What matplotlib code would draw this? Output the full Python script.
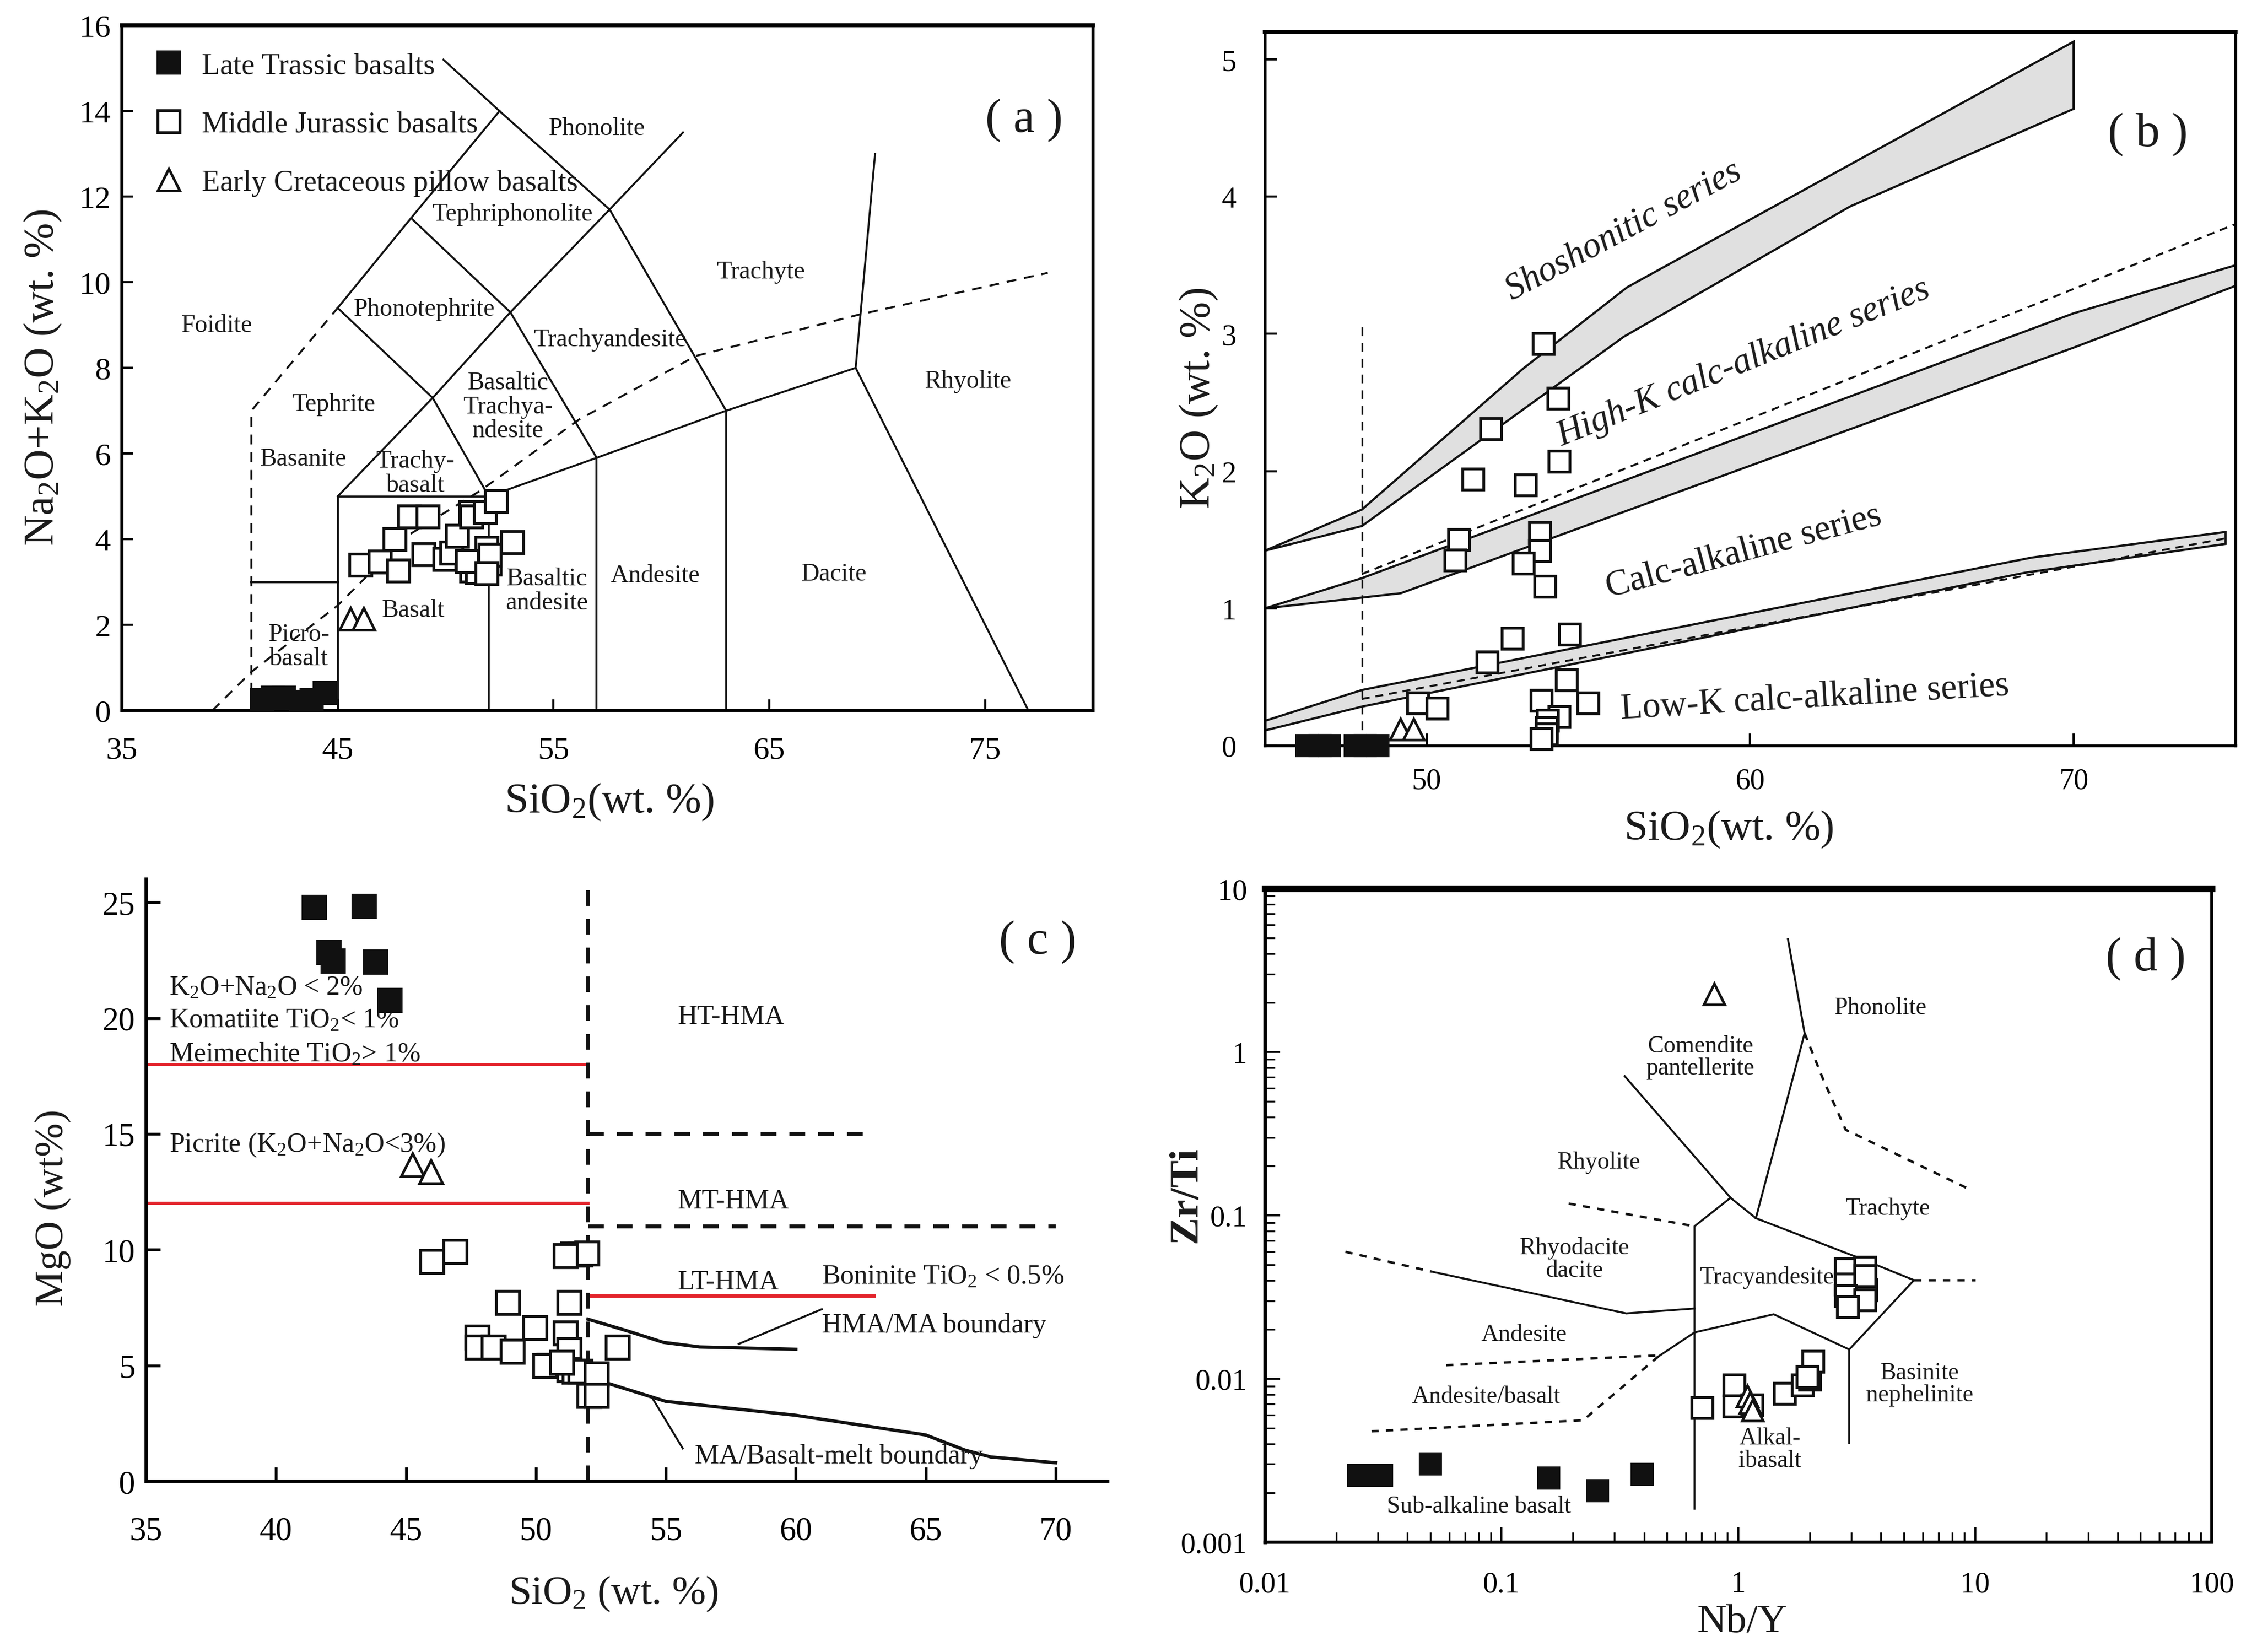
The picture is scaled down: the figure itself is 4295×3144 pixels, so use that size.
import numpy as np
import matplotlib
matplotlib.use('Agg')
import matplotlib.pyplot as plt
from matplotlib.lines import Line2D

plt.rcParams['font.family'] = ['Liberation Serif', 'DejaVu Serif']
plt.rcParams['mathtext.fontset'] = 'custom'
plt.rcParams['mathtext.rm'] = 'Liberation Serif'
plt.rcParams['mathtext.it'] = 'Liberation Serif:italic'
plt.rcParams['mathtext.bf'] = 'Liberation Serif:bold'
plt.rcParams['text.color'] = '#1a1a1a'

INK = '#111111'
RED = '#e3232b'
BAND = '#e0e0e0'

# ---------------- (a) TAS data ----------------
tas_lt_x = [41.5, 42.0, 42.5, 43.3, 43.8, 44.4]
tas_lt_y = [0.25, 0.3, 0.3, 0.2, 0.25, 0.4]
tas_mj_x = [46.06, 46.95, 47.8, 47.63, 48.32, 49.17, 48.97, 49.94, 50.28, 50.54, 51.14, 51.2,
            51.82, 52.33, 51.39, 51.2, 51.46, 51.9, 52.05, 53.1, 52.05, 51.0, 51.9]
tas_mj_y = [3.40, 3.47, 3.26, 4.0, 4.53, 4.53, 3.65, 3.54, 3.68, 4.07, 4.63, 4.53,
            4.63, 4.88, 3.36, 3.26, 3.23, 3.79, 3.42, 3.93, 3.63, 3.49, 3.2]
tas_ec_x = [45.6, 46.2]
tas_ec_y = [2.13, 2.13]

tas_solid = [
    [(41, 3), (45, 3)],
    [(45, 0), (45, 5), (52, 5), (52, 0)],
    [(52, 5), (57, 5.9), (63, 7), (69, 8), (77, 0)],
    [(57, 0), (57, 5.9)],
    [(63, 0), (63, 7)],
    [(69, 8), (69.9, 13)],
    [(45, 9.4), (49.4, 7.3), (52, 5)],
    [(45, 5), (49.4, 7.3), (53, 9.3), (57.6, 11.7), (61, 13.5)],
    [(45, 9.4), (48.4, 11.5), (52.5, 14)],
    [(48.4, 11.5), (53, 9.3), (57, 5.9)],
    [(49.9, 15.2), (52.5, 14), (57.6, 11.7), (63, 7)],
]
tas_dashed = [
    [(41, 0), (41, 7), (45, 9.4)],
    [(39.2, 0), (41, 0.9), (45, 2.45), (48.2, 4.07), (51.6, 5.13), (56.2, 6.8),
     (61.6, 8.28), (69.2, 9.25), (77.9, 10.22)],
]
tas_labels = [
    ('Foidite', 39.4, 9.0), ('Tephrite', 44.8, 7.16), ('Basanite', 43.4, 5.88),
    ('Picro-\nbasalt', 43.2, 1.5), ('Trachy-\nbasalt', 48.6, 5.55), ('Basalt', 48.5, 2.35),
    ('Basaltic\nTrachya-\nndesite', 52.9, 7.1), ('Basaltic\nandesite', 54.7, 2.8),
    ('Andesite', 59.7, 3.16), ('Dacite', 68.0, 3.19), ('Rhyolite', 74.2, 7.7),
    ('Trachyte', 64.6, 10.25), ('Trachyandesite', 57.6, 8.67), ('Phonotephrite', 49.0, 9.38),
    ('Tephriphonolite', 53.1, 11.6), ('Phonolite', 57.0, 13.6),
]

# ---------------- (b) K2O-SiO2 data ----------------
k_lt_x = [46.3, 46.7, 47.0, 47.8, 48.1, 48.5]
k_lt_y = [0, 0, 0, 0, 0, 0]
k_mj_x = [53.61, 54.06, 51.99, 54.1, 51.44, 53.06, 51.0, 50.88, 53.5, 53.5, 52.99, 53.66,
          52.66, 51.88, 54.43, 54.32, 54.99, 49.73, 50.33, 53.55, 54.1, 53.74, 53.7, 53.7, 53.55]
k_mj_y = [2.93, 2.53, 2.31, 2.07, 1.94, 1.90, 1.50, 1.35, 1.55, 1.42, 1.33, 1.16,
          0.78, 0.61, 0.81, 0.48, 0.31, 0.31, 0.27, 0.33, 0.21, 0.185, 0.13, 0.086, 0.05]
k_ec_x = [49.2, 49.6]
k_ec_y = [0.12, 0.12]

band1_up_x = [45, 48, 53, 56.2, 63.6, 70]
band1_up_y = [1.42, 1.72, 2.75, 3.34, 4.3, 5.13]
band1_lo_x = [45, 48, 56.1, 63.1, 70]
band1_lo_y = [1.42, 1.6, 2.98, 3.93, 4.64]
band2_up_x = [45, 48, 70, 75]
band2_up_y = [1.0, 1.22, 3.15, 3.5]
band2_lo_x = [45, 49.2, 70, 75]
band2_lo_y = [1.0, 1.11, 2.9, 3.35]
band3_up_x = [45, 48, 68.7, 74.7]
band3_up_y = [0.18, 0.405, 1.37, 1.557]
band3_lo_x = [45, 48, 68.5, 74.7]
band3_lo_y = [0.11, 0.284, 1.26, 1.47]
hik_dash = [(48, 1.25), (75, 3.8)]
lok_dash = [(48, 0.34), (74.7, 1.51)]

k_labels = [
    ('Shoshonitic series', 56.1, 3.75, 28, 'italic'),
    ('High-K calc-alkaline series', 59.8, 2.79, 22, 'italic'),
    ('Calc-alkaline series', 59.8, 1.41, 15, 'normal'),
    ('Low-K calc-alkaline series', 62.0, 0.35, 3.5, 'normal'),
]

# ---------------- (c) MgO-SiO2 data ----------------
m_lt_x = [41.47, 43.4, 42.04, 42.2, 43.84, 44.38]
m_lt_y = [24.78, 24.83, 22.82, 22.47, 22.42, 20.75]
m_mj_x = [46.0, 46.9, 51.41, 51.7, 51.97, 51.14, 48.92, 51.28, 49.97, 51.14, 47.73, 47.73,
          48.37, 49.1, 51.28, 53.14, 50.5, 50.35, 51.28, 51.48, 51.7, 52.33, 52.05, 52.33, 51.0]
m_mj_y = [9.49, 9.91, 9.8, 9.8, 9.86, 9.74, 7.72, 7.72, 6.63, 6.39, 6.21, 5.78,
          5.78, 5.6, 5.67, 5.78, 4.99, 4.99, 4.81, 4.75, 4.75, 4.63, 3.71, 3.71, 5.12]
m_ec_x = [45.26, 45.97]
m_ec_y = [13.66, 13.37]

hma_ma_x = [52, 53.5, 54.9, 56.3, 60]
hma_ma_y = [7.0, 6.5, 6.0, 5.8, 5.7]
ma_melt_x = [52, 55, 60, 65, 66.5, 67.5, 70]
ma_melt_y = [4.5, 3.45, 2.85, 2.0, 1.35, 1.05, 0.8]

# ---------------- (d) Zr/Ti-Nb/Y data ----------------
z_lt_x = [0.0249, 0.0311, 0.050, 0.158, 0.254, 0.392]
z_lt_y = [0.00256, 0.00256, 0.0030, 0.00246, 0.00206, 0.0026]
z_mj_x = [0.702, 0.96, 0.96, 1.143, 1.567, 1.867, 2.0, 2.07, 1.95,
          2.84, 3.43, 2.84, 3.46, 3.43, 2.84, 3.43, 2.9]
z_mj_y = [0.00667, 0.00917, 0.00679, 0.0069, 0.00813, 0.00917, 0.00993, 0.0128, 0.0103,
          0.0471, 0.048, 0.0378, 0.0349, 0.0427, 0.0322, 0.0303, 0.0275]
z_ec_x = [0.789, 1.09, 1.12, 1.15]
z_ec_y = [2.25, 0.0078, 0.0071, 0.0064]

d_solid = [
    [(0.331, 0.711), (0.927, 0.128), (1.186, 0.096), (3.27, 0.0545), (5.52, 0.0401),
     (2.94, 0.0151), (1.41, 0.0248), (0.653, 0.0192), (0.46, 0.0137)],
    [(1.62, 4.9), (1.905, 1.30), (1.186, 0.096)],
    [(0.927, 0.128), (0.653, 0.0857), (0.653, 0.0016)],
    [(2.94, 0.0151), (2.94, 0.00405)],
    [(0.0508, 0.0452), (0.336, 0.0251), (0.653, 0.0269)],
]
d_dashed = [
    [(0.46, 0.0137), (0.221, 0.00557), (0.027, 0.00475)],
    [(0.0583, 0.0121), (0.46, 0.0139)],
    [(0.0219, 0.0598), (0.0508, 0.0452)],
    [(0.192, 0.118), (0.653, 0.0857)],
    [(1.905, 1.30), (2.30, 0.66), (2.84, 0.334), (9.34, 0.1456)],
    [(5.52, 0.0401), (10.0, 0.0401)],
]
d_labels = [
    ('Phonolite', 3.98, 1.86), ('Comendite\npantellerite', 0.69, 0.93), ('Rhyolite', 0.258, 0.212),
    ('Trachyte', 4.27, 0.11), ('Rhyodacite\ndacite', 0.203, 0.054), ('Tracyandesite', 1.32, 0.0418),
    ('Andesite', 0.1245, 0.0186), ('Andesite/basalt', 0.086, 0.0078),
    ('Basinite\nnephelinite', 5.84, 0.0093), ('Alkal-\nibasalt', 1.36, 0.0037),
    ('Sub-alkaline basalt', 0.08, 0.00166),
]


def polyline(ax, pts, **kw):
    xs, ys = zip(*pts)
    ax.plot(xs, ys, color=INK, **kw)


def samples(ax, lt, mj, ec, ms=9.5, clip=True):
    ax.plot(lt[0], lt[1], 's', ls='none', mfc=INK, mec=INK, ms=ms, mew=1.0, clip_on=clip, zorder=5)
    ax.plot(mj[0], mj[1], 's', ls='none', mfc='white', mec=INK, ms=ms, mew=1.3, clip_on=clip, zorder=5)
    ax.plot(ec[0], ec[1], '^', ls='none', mfc='white', mec=INK, ms=ms, mew=1.2, clip_on=clip, zorder=5)


fig = plt.figure(figsize=(4295 / 300, 3145 / 300), dpi=300)

# ================= (a) =================
ax = fig.add_axes([0.054, 0.5698, 0.4303, 0.4145])
ax.set_xlim(35, 80)
ax.set_ylim(0, 16)
for pts in tas_solid:
    polyline(ax, pts, lw=0.9)
for pts in tas_dashed:
    polyline(ax, pts, lw=0.9, dashes=(5, 4))
for txt, x, y in tas_labels:
    ax.text(x, y, txt, ha='center', va='center', fontsize=11.5, linespacing=1.05)
samples(ax, (tas_lt_x, tas_lt_y), (tas_mj_x, tas_mj_y), (tas_ec_x, tas_ec_y), ms=10)
ax.text(76.8, 13.8, '( a )', fontsize=22, ha='center', va='center')
ax.set_xticks([35, 45, 55, 65, 75])
ax.set_yticks(np.arange(0, 17, 2))
ax.tick_params(direction='in', length=5, width=1.0, labelsize=14.5)
ax.tick_params(axis='x', pad=12)
ax.tick_params(axis='y', pad=5)
for s in ax.spines.values():
    s.set_linewidth(1.4)
ax.spines['top'].set_linewidth(1.8)
ax.text(0.502, -0.133, 'SiO$_2$(wt. %)', transform=ax.transAxes, ha='center', va='center', fontsize=19.5)
ax.text(-0.081, 0.487, 'Na$_2$O+K$_2$O (wt. %)', transform=ax.transAxes, ha='center', va='center',
        fontsize=19.5, rotation=90)
handles = [
    Line2D([], [], marker='s', ls='none', mfc=INK, mec=INK, ms=10),
    Line2D([], [], marker='s', ls='none', mfc='white', mec=INK, ms=10, mew=1.3),
    Line2D([], [], marker='^', ls='none', mfc='white', mec=INK, ms=10, mew=1.2),
]
ax.legend(handles, ['Late Trassic basalts', 'Middle Jurassic basalts', 'Early Cretaceous pillow basalts'],
          loc='upper left', bbox_to_anchor=(0.033, 0.961), frameon=False, fontsize=13.6,
          borderpad=0, borderaxespad=0, handlelength=1.0, handletextpad=0.6, labelspacing=1.05)

# ================= (b) =================
ax = fig.add_axes([0.5604, 0.5485, 0.4300, 0.4318])
ax.set_xlim(45, 75)
ax.set_ylim(0, 5.2)
for ux, uy, lx, ly in [(band1_up_x, band1_up_y, band1_lo_x, band1_lo_y),
                       (band2_up_x, band2_up_y, band2_lo_x, band2_lo_y),
                       (band3_up_x, band3_up_y, band3_lo_x, band3_lo_y)]:
    px = list(ux) + list(lx)[::-1]
    py = list(uy) + list(ly)[::-1]
    ax.fill(px, py, facecolor=BAND, edgecolor=INK, lw=1.0)
polyline(ax, hik_dash, lw=0.9, dashes=(4, 3))
polyline(ax, lok_dash, lw=0.9, dashes=(4, 3))
ax.plot([48, 48], [0, 3.08], color=INK, lw=0.8, dashes=(5, 4))
for txt, x, y, rot, sty in k_labels:
    ax.text(x, y, txt, ha='center', va='center', rotation=rot, rotation_mode='anchor',
            fontsize=16.5, style=sty)
samples(ax, (k_lt_x, k_lt_y), (k_mj_x, k_mj_y), (k_ec_x, k_ec_y), ms=9.5, clip=False)
ax.text(72.3, 4.46, '( b )', fontsize=22, ha='center', va='center')
ax.set_xticks([50, 60, 70])
ax.set_yticks([0, 1, 2, 3, 4, 5])
ax.tick_params(direction='in', length=5.5, width=1.0, labelsize=13.5)
ax.tick_params(axis='x', pad=10)
ax.tick_params(axis='y', pad=13)
for s in ax.spines.values():
    s.set_linewidth(1.3)
ax.spines['top'].set_linewidth(1.9)
ax.text(0.478, -0.117, 'SiO$_2$(wt. %)', transform=ax.transAxes, ha='center', va='center', fontsize=19.5)
ax.text(-0.068, 0.487, 'K$_2$O (wt. %)', transform=ax.transAxes, ha='center', va='center',
        fontsize=20, rotation=90)

# ================= (c) =================
ax = fig.add_axes([0.0647, 0.1033, 0.4261, 0.3644])
ax.set_xlim(35, 72)
ax.set_ylim(0, 26)
ax.spines['top'].set_visible(False)
ax.spines['right'].set_visible(False)
ax.plot([35, 52], [18, 18], color=RED, lw=1.4)
ax.plot([35, 52], [12, 12], color=RED, lw=1.4)
ax.plot([52, 63], [8, 8], color=RED, lw=1.6)
ax.plot([52, 52], [0, 26], color=INK, lw=1.8, dashes=(4, 3.3))
ax.plot([52, 63], [15, 15], color=INK, lw=1.8, dashes=(4, 3.3))
ax.plot([52, 70], [11, 11], color=INK, lw=1.8, dashes=(4, 3.3))
ax.plot(hma_ma_x, hma_ma_y, color=INK, lw=1.5)
ax.plot(ma_melt_x, ma_melt_y, color=INK, lw=1.5)
ax.plot([61.0, 57.8], [7.43, 5.93], color=INK, lw=0.9)
ax.plot([55.65, 54.45], [1.42, 3.65], color=INK, lw=0.9)
samples(ax, (m_lt_x, m_lt_y), (m_mj_x, m_mj_y), (m_ec_x, m_ec_y), ms=10.5)
cfs = 12.5
ax.text(35.9, 21.3, 'K$_2$O+Na$_2$O < 2%', fontsize=cfs, va='center')
ax.text(35.9, 19.9, 'Komatiite TiO$_2$< 1%', fontsize=cfs, va='center')
ax.text(35.9, 18.44, 'Meimechite TiO$_2$> 1%', fontsize=cfs, va='center')
ax.text(35.9, 14.53, 'Picrite (K$_2$O+Na$_2$O<3%)', fontsize=cfs, va='center')
ax.text(57.5, 20.05, 'HT-HMA', fontsize=cfs, ha='center', va='center')
ax.text(57.6, 12.1, 'MT-HMA', fontsize=cfs, ha='center', va='center')
ax.text(57.4, 8.6, 'LT-HMA', fontsize=cfs, ha='center', va='center')
ax.text(61.0, 8.83, 'Boninite TiO$_2$ < 0.5%', fontsize=cfs, va='center')
ax.text(61.0, 6.75, 'HMA/MA boundary', fontsize=cfs, va='center')
ax.text(56.1, 1.1, 'MA/Basalt-melt boundary', fontsize=cfs, va='center')
ax.text(69.3, 23.3, '( c )', fontsize=22, ha='center', va='center')
ax.set_xticks([35, 40, 45, 50, 55, 60, 65, 70])
ax.set_yticks([0, 5, 10, 15, 20, 25])
ax.tick_params(direction='in', length=6.5, width=1.3, labelsize=15)
ax.tick_params(axis='x', pad=16)
ax.tick_params(axis='y', pad=5)
ax.spines['left'].set_linewidth(1.7)
ax.spines['bottom'].set_linewidth(1.5)
ax.text(0.486, -0.186, 'SiO$_2$ (wt. %)', transform=ax.transAxes, ha='center', va='center', fontsize=18.5)
ax.text(-0.097, 0.455, 'MgO (wt%)', transform=ax.transAxes, ha='center', va='center',
        fontsize=18.5, rotation=90)

# ================= (d) =================
ax = fig.add_axes([0.5604, 0.0665, 0.4196, 0.3955])
ax.set_xscale('log')
ax.set_yscale('log')
ax.set_xlim(0.01, 100)
ax.set_ylim(0.001, 10)
for pts in d_solid:
    polyline(ax, pts, lw=0.9)
for pts in d_dashed:
    polyline(ax, pts, lw=1.1, dashes=(3, 3))
for txt, x, y in d_labels:
    ax.text(x, y, txt, ha='center', va='center', fontsize=11, linespacing=1.0)
samples(ax, (z_lt_x, z_lt_y), (z_mj_x, z_mj_y), (z_ec_x, z_ec_y), ms=9.5)
ax.text(52.6, 3.75, '( d )', fontsize=22, ha='center', va='center')
ax.set_xticks([0.01, 0.1, 1, 10, 100], ['0.01', '0.1', '1', '10', '100'])
ax.set_yticks([0.001, 0.01, 0.1, 1, 10], ['0.001', '0.01', '0.1', '1', '10'])
ax.tick_params(which='major', direction='in', length=7, width=0.9, labelsize=13.5)
ax.tick_params(which='minor', direction='in', length=4.5, width=0.8)
ax.tick_params(axis='x', which='major', pad=13)
ax.tick_params(axis='y', which='major', pad=8)
ax.spines['top'].set_linewidth(3.0)
ax.spines['bottom'].set_linewidth(1.5)
ax.spines['left'].set_linewidth(1.6)
ax.spines['right'].set_linewidth(1.4)
ax.text(0.504, -0.122, 'Nb/Y', transform=ax.transAxes, ha='center', va='center', fontsize=18.5)
ax.text(-0.083, 0.532, 'Zr/Ti', transform=ax.transAxes, ha='center', va='center',
        fontsize=19, fontweight='bold', rotation=90)

fig.savefig('out.png', dpi=300)
